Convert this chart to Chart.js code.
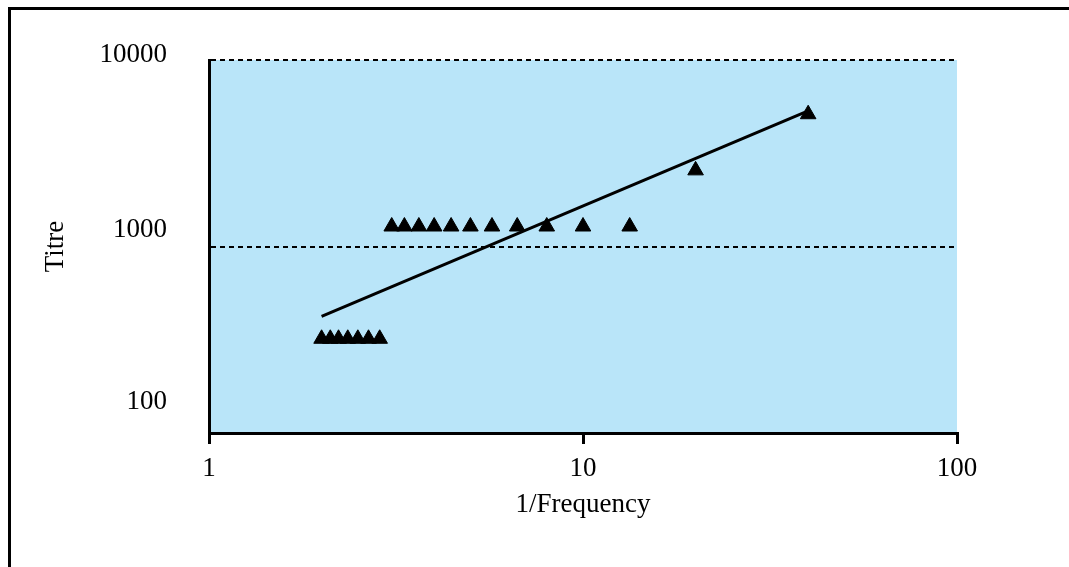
<!DOCTYPE html>
<html>
<head>
<meta charset="utf-8">
<script src="https://cdn.jsdelivr.net/npm/chart.js@4/dist/chart.umd.min.js"></script>
<style>
  html, body { margin: 0; padding: 0; background: #ffffff; overflow: hidden; }
  #wrap { position: relative; width: 1069px; height: 567px; }
  #frame { position: absolute; left: 8px; top: 7px; width: 2000px; height: 2000px;
           border: 3px solid #000; box-sizing: border-box; pointer-events: none; }
  canvas { position: absolute; left: 0; top: 0; }
</style>
</head>
<body>
<div id="wrap">
  <canvas id="c" width="1069" height="567"></canvas>
  <div id="frame"></div>
</div>
<script>
// ---- data ----
const invFrequency = [40, 20, 13.33, 10, 8, 6.67, 5.71, 5, 4.44, 4, 3.64, 3.33, 3.08, 2.86, 2.67, 2.5, 2.35, 2.22, 2.11, 2];
const titre        = [5120, 2560, 1280, 1280, 1280, 1280, 1280, 1280, 1280, 1280, 1280, 1280, 1280, 320, 320, 320, 320, 320, 320, 320];
const trendX = [2, 40];
const trendY = [422, 5335];
const xTickValues = [1, 10, 100];
const yTickValues = [100, 1000, 10000];
const xTitle = '1/Frequency';
const yTitle = 'Titre';

// ---- styling constants ----
const FONT = '"Liberation Serif", "Times New Roman", serif';
const FS = 27;
const PLOT_BG = '#B9E5F9';
const yLabelShift = [-31, -17, -5];   // label offsets (px) as drawn in the reference

const bgPlugin = {
  id: 'plotBg',
  beforeDraw(chart) {
    const {ctx, chartArea: a} = chart;
    ctx.save();
    ctx.fillStyle = PLOT_BG;
    ctx.fillRect(a.left, a.top, a.right - a.left, a.bottom - a.top);
    ctx.restore();
  }
};

const yLabelPlugin = {
  id: 'yLabels',
  afterDraw(chart) {
    const {ctx, chartArea: a} = chart;
    const ys = chart.scales.y;
    ctx.save();
    ctx.font = FS + 'px ' + FONT;
    ctx.fillStyle = '#000';
    ctx.textAlign = 'right';
    ctx.textBaseline = 'middle';
    ys.ticks.forEach((t, i) => {
      ctx.fillText(String(t.value), a.left - 42, ys.getPixelForValue(t.value) + (yLabelShift[i] || 0));
    });
    ctx.restore();
  }
};

const points = invFrequency.map((x, i) => ({x: x, y: titre[i]}));
const trend = trendX.map((x, i) => ({x: x, y: trendY[i]}));

new Chart(document.getElementById('c'), {
  type: 'scatter',
  data: {
    datasets: [
      {
        label: 'Titre',
        data: points,
        pointStyle: 'triangle',
        pointRadius: 9,
        pointHoverRadius: 9,
        backgroundColor: '#000',
        borderColor: '#000',
        borderWidth: 1,
        order: 2
      },
      {
        label: 'Trend',
        data: trend,
        showLine: true,
        pointRadius: 0,
        borderColor: '#000',
        borderWidth: 3,
        fill: false,
        order: 1
      }
    ]
  },
  options: {
    responsive: false,
    animation: false,
    devicePixelRatio: 1,
    layout: { padding: { left: 0, top: 60, right: 112, bottom: 0 } },
    plugins: { legend: { display: false }, tooltip: { enabled: false } },
    scales: {
      x: {
        type: 'logarithmic',
        min: 1, max: 100,
        afterBuildTicks: s => { s.ticks = xTickValues.map(v => ({value: v})); },
        afterFit: s => { s.height = 134; },
        ticks: {
          callback: v => String(v),
          color: '#000',
          font: { family: FONT, size: FS },
          padding: 9,
          maxRotation: 0
        },
        grid: {
          drawOnChartArea: false,
          drawTicks: true,
          tickLength: 11,
          color: '#000',
          lineWidth: 3
        },
        border: { display: true, color: '#000', width: 3 },
        title: {
          display: true, text: xTitle, color: '#000',
          font: { family: FONT, size: FS },
          padding: { top: 0, bottom: 46 }
        }
      },
      y: {
        type: 'logarithmic',
        min: 100, max: 10000,
        afterBuildTicks: s => { s.ticks = yTickValues.map(v => ({value: v})); },
        afterFit: s => { s.width = 209; },
        ticks: { display: false },
        grid: {
          drawOnChartArea: true,
          drawTicks: false,
          color: '#000',
          lineWidth: 2
        },
        border: { display: true, color: '#000', width: 3, dash: [5, 4] },
        title: {
          display: true, text: yTitle, color: '#000',
          font: { family: FONT, size: FS },
          padding: { top: 40, bottom: 0 }
        }
      }
    }
  },
  plugins: [bgPlugin, yLabelPlugin]
});
</script>
</body>
</html>
